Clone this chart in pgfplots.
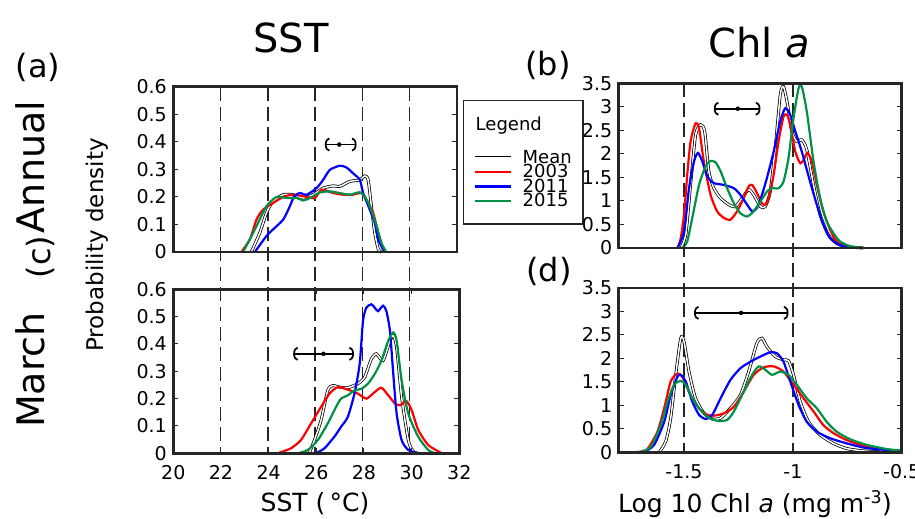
\documentclass[border=0pt]{standalone}
\usepackage{fontspec}
\setmainfont{DejaVu Sans}
\usepackage{pgfplots}
\pgfplotsset{compat=1.18}
\usetikzlibrary{arrows.meta}
\definecolor{axcol}{RGB}{38,38,38}
\definecolor{cred}{RGB}{255,0,0}
\definecolor{cblue}{RGB}{0,0,255}
\definecolor{cgreen}{RGB}{0,145,70}
\newcommand{\fs}[1]{\fontsize{#1}{#1}\selectfont}
\pgfplotsset{
  panel/.style={scale only axis, axis on top, clip=false,
    axis line style={draw=axcol, line width=2.8pt},
    tick style={draw=axcol, line width=1pt},
    tick align=inside, major tick length=5pt,
    /pgf/number format/assume math mode=true,
    ticklabel style={font=\fs{19}},
    yticklabel style={xshift=-3pt},
    xticklabel style={yshift=-9pt},
  },
  sst/.style={panel, xmin=20, xmax=32, ymin=0, ymax=0.6,
    xtick={20,22,24,26,28,30,32},
    ytick={0,0.1,0.2,0.3,0.4,0.5,0.6},
    yticklabels={0,0.1,0.2,0.3,0.4,0.5,0.6}},
  chl/.style={panel, xmin=-1.8, xmax=-0.5, ymin=0, ymax=3.5,
    xtick={-1.5,-1,-0.5},
    ytick={0,0.5,1,1.5,2,2.5,3,3.5},
    yticklabels={0,0.5,1,1.5,2,2.5,3,3.5}},
  meanl/.style={draw=black, line width=0.75pt, double=white, double distance=1.5pt, smooth, tension=0.4},
  s03/.style={cred, line width=2.2pt, smooth, tension=0.4},
  s11/.style={cblue, line width=2.2pt, smooth, tension=0.4},
  s15/.style={cgreen, line width=2.2pt, smooth, tension=0.4},
  dline/.style={draw=axcol, line width=1.5pt, dash pattern=on 14pt off 6pt, forget plot},
  ebar/.style={black, line width=1.7pt, forget plot, arrows={Arc Barb[width=14pt,length=4.5pt]-Arc Barb[width=14pt,length=4.5pt]}},
  edot/.style={black, only marks, mark=*, mark size=2pt, forget plot},
}
\begin{document}
\begin{tikzpicture}[x=1pt,y=1pt]
\path[use as bounding box] (0,0) rectangle (915,519);

% ---------------- (a) SST annual
\begin{axis}[sst, at={(173.3pt,267pt)}, anchor=south west, width=283.7pt, height=165.3pt,
  xticklabels={},
  legend style={at={(1.021,0.92)}, anchor=north west, draw=axcol, line width=1.5pt, fill=white,
    font=\fs{18}, inner xsep=10pt, inner ysep=15pt, row sep=-2.5pt, cells={anchor=west},
    nodes={inner sep=1pt}, /tikz/every odd column/.append style={column sep=9pt}},
  legend image code/.code={\draw[#1] (0pt,0pt) -- (36pt,0pt);},
]
\addplot[dline] coordinates {(22,0.6) (22,-0.7307)};
\addplot[dline] coordinates {(24,0.6) (24,-0.7307)};
\addplot[dline] coordinates {(26,0.6) (26,-0.7307)};
\addplot[dline] coordinates {(28,0.6) (28,-0.7307)};
\addplot[dline] coordinates {(30,0.6) (30,-0.7307)};
\addlegendimage{legend image code/.code={\path[draw=none,fill=none] (0pt,-19pt) rectangle (1pt,0pt);}}
\addlegendentry[text depth=19pt]{\makebox[0pt][l]{\hspace*{-47pt}Legend}}
\addplot[meanl] coordinates {(23.3,0) (23.66,0.07) (23.94,0.142) (24.22,0.184) (24.65,0.208) (25.07,0.208) (25.5,0.196) (25.92,0.208) (26.34,0.232) (26.77,0.24) (27.04,0.238) (27.46,0.256) (27.89,0.262) (28.1,0.276) (28.24,0.262) (28.38,0.166) (28.52,0.07) (28.67,0.01) (28.8,0)};
\addlegendentry{Mean}
\addplot[s03] coordinates {(22.88,0) (23.24,0.046) (23.52,0.118) (23.8,0.154) (24.22,0.178) (24.65,0.2) (25.07,0.208) (25.64,0.2) (25.99,0.196) (26.28,0.226) (26.77,0.214) (27.18,0.208) (27.6,0.208) (27.96,0.214) (28.17,0.19) (28.45,0.142) (28.67,0.07) (28.87,0.01) (29.0,0)};
\addlegendentry{2003}
\addplot[s11] coordinates {(23.45,0) (23.94,0.058) (24.22,0.082) (24.65,0.118) (24.93,0.166) (25.1,0.2) (25.35,0.214) (25.64,0.208) (26.06,0.232) (26.34,0.262) (26.62,0.298) (27.04,0.313) (27.32,0.307) (27.6,0.286) (27.89,0.262) (28.03,0.214) (28.31,0.154) (28.52,0.106) (28.67,0.046) (28.87,0.01) (29.0,0)};
\addlegendentry{2011}
\addplot[s15] coordinates {(22.95,0) (23.31,0.058) (23.52,0.094) (23.94,0.166) (24.37,0.2) (24.79,0.196) (25.21,0.196) (25.5,0.187) (25.78,0.196) (26.2,0.216) (26.62,0.22) (27.04,0.214) (27.46,0.208) (27.89,0.217) (28.1,0.2) (28.31,0.166) (28.6,0.094) (28.8,0.034) (29.0,0)};
\addlegendentry{2015}
\addplot[ebar] coordinates {(26.41,0.39) (27.75,0.39)};
\addplot[edot] coordinates {(27.02,0.39)};
\end{axis}

% ---------------- (c) SST March
\begin{axis}[sst, at={(173.3pt,65.7pt)}, anchor=south west, width=286pt, height=164pt]
\addplot[meanl] coordinates {(25.7,0) (25.92,0.048) (26.2,0.121) (26.48,0.23) (26.69,0.248) (26.97,0.242) (27.32,0.24) (27.75,0.255) (28.03,0.279) (28.31,0.345) (28.52,0.364) (28.8,0.339) (29.09,0.412) (29.23,0.43) (29.37,0.388) (29.58,0.206) (29.86,0.048) (30.07,0.006) (30.28,0)};
\addplot[s03] coordinates {(24.37,0) (24.93,0.018) (25.35,0.048) (25.78,0.109) (26.2,0.17) (26.55,0.218) (26.9,0.242) (27.32,0.233) (27.75,0.218) (28.1,0.2) (28.45,0.224) (28.73,0.24) (29.02,0.212) (29.3,0.182) (29.51,0.176) (29.79,0.19) (30.0,0.158) (30.28,0.085) (30.7,0.03) (31.27,0)};
\addplot[s11] coordinates {(25.98,0) (26.34,0.018) (26.76,0.061) (27.04,0.097) (27.32,0.133) (27.6,0.218) (27.82,0.327) (27.96,0.485) (28.1,0.533) (28.31,0.545) (28.45,0.533) (28.59,0.52) (28.8,0.54) (28.94,0.52) (29.09,0.448) (29.23,0.29) (29.37,0.145) (29.58,0.048) (29.86,0.012) (30.28,0)};
\addplot[s15] coordinates {(25.21,0) (25.64,0.012) (26.06,0.048) (26.48,0.109) (26.83,0.17) (27.04,0.2) (27.32,0.212) (27.6,0.23) (27.89,0.236) (28.17,0.255) (28.45,0.29) (28.73,0.339) (29.02,0.412) (29.23,0.442) (29.37,0.412) (29.58,0.267) (29.86,0.145) (30.28,0.06) (30.7,0.012) (30.99,0)};
\addplot[ebar] coordinates {(25.03,0.364) (27.58,0.364)};
\addplot[edot] coordinates {(26.3,0.364)};
\end{axis}

% ---------------- (b) Chl annual
\begin{axis}[chl, at={(618.7pt,271pt)}, anchor=south west, width=283pt, height=164.7pt,
  xticklabels={}]
\addplot[dline] coordinates {(-1.5,3.5) (-1.5,-4.341)};
\addplot[dline] coordinates {(-1,3.5) (-1,-4.341)};
\addplot[meanl] coordinates {(-1.515,0) (-1.492,0.28) (-1.47,1.34) (-1.447,2.4) (-1.424,2.62) (-1.405,2.48) (-1.386,1.63) (-1.363,1.27) (-1.332,1.06) (-1.294,0.92) (-1.264,0.88) (-1.233,1.06) (-1.203,1.24) (-1.18,1.13) (-1.149,0.88) (-1.127,0.88) (-1.104,1.2) (-1.081,2.12) (-1.058,3.25) (-1.043,3.43) (-1.024,3.04) (-1.005,2.48) (-0.982,2.26) (-0.959,2.3) (-0.936,2.09) (-0.905,1.34) (-0.875,0.71) (-0.837,0.28) (-0.799,0.1) (-0.753,0.03) (-0.677,0)};
\addplot[s03] coordinates {(-1.53,0) (-1.515,0.21) (-1.5,0.71) (-1.485,1.56) (-1.47,2.26) (-1.447,2.65) (-1.431,2.55) (-1.409,1.84) (-1.378,1.13) (-1.348,0.78) (-1.317,0.64) (-1.287,0.6) (-1.256,0.78) (-1.226,1.06) (-1.203,1.31) (-1.187,1.34) (-1.165,1.17) (-1.142,0.95) (-1.127,0.92) (-1.111,1.06) (-1.088,1.56) (-1.066,2.26) (-1.043,2.79) (-1.027,2.83) (-1.012,2.62) (-0.989,2.05) (-0.966,1.8) (-0.951,1.87) (-0.933,2.02) (-0.913,1.84) (-0.89,1.34) (-0.86,0.78) (-0.829,0.39) (-0.799,0.14) (-0.753,0.03) (-0.677,0)};
\addplot[s11] coordinates {(-1.53,0) (-1.5,0.35) (-1.477,1.27) (-1.454,1.84) (-1.436,2.02) (-1.416,1.84) (-1.393,1.52) (-1.363,1.38) (-1.317,1.34) (-1.271,1.27) (-1.241,1.13) (-1.21,0.92) (-1.187,0.78) (-1.165,0.85) (-1.142,1.13) (-1.119,1.49) (-1.088,2.05) (-1.058,2.69) (-1.035,2.97) (-1.012,2.83) (-0.989,2.48) (-0.959,2.05) (-0.921,1.41) (-0.89,0.92) (-0.86,0.5) (-0.829,0.21) (-0.784,0.06) (-0.723,0)};
\addplot[s15] coordinates {(-1.508,0) (-1.485,0.14) (-1.462,0.64) (-1.431,1.34) (-1.401,1.73) (-1.378,1.85) (-1.355,1.82) (-1.332,1.63) (-1.302,1.27) (-1.271,0.95) (-1.241,0.74) (-1.21,0.67) (-1.18,0.78) (-1.149,0.99) (-1.119,1.2) (-1.096,1.27) (-1.066,1.27) (-1.043,1.41) (-1.02,1.91) (-0.997,2.76) (-0.974,3.39) (-0.959,3.43) (-0.936,2.9) (-0.905,1.84) (-0.875,1.06) (-0.845,0.57) (-0.814,0.32) (-0.784,0.14) (-0.738,0.04) (-0.677,0)};
\addplot[ebar] coordinates {(-1.363,2.96) (-1.149,2.96)};
\addplot[edot] coordinates {(-1.253,2.96)};
\end{axis}

% ---------------- (d) Chl March
\begin{axis}[chl, at={(618.7pt,66.7pt)}, anchor=south west, width=283pt, height=164.3pt,
  xticklabels={-1.5,-1,-0.5}]
\addplot[meanl] coordinates {(-1.614,0) (-1.584,0.23) (-1.561,0.73) (-1.538,1.65) (-1.515,2.43) (-1.5,2.36) (-1.477,1.72) (-1.447,1.15) (-1.408,0.83) (-1.37,0.71) (-1.332,0.73) (-1.287,0.94) (-1.241,1.22) (-1.203,1.72) (-1.165,2.33) (-1.142,2.43) (-1.119,2.25) (-1.081,2.04) (-1.043,1.97) (-1.02,1.95) (-0.997,1.65) (-0.966,1.08) (-0.928,0.65) (-0.875,0.37) (-0.814,0.19) (-0.753,0.08) (-0.677,0.03) (-0.6,0.01)};
\addplot[s03] coordinates {(-1.75,0) (-1.706,0.01) (-1.668,0.07) (-1.622,0.44) (-1.591,0.94) (-1.561,1.51) (-1.53,1.68) (-1.508,1.61) (-1.485,1.37) (-1.454,1.08) (-1.424,0.9) (-1.393,0.8) (-1.363,0.78) (-1.317,0.83) (-1.271,0.97) (-1.226,1.29) (-1.18,1.65) (-1.134,1.81) (-1.088,1.83) (-1.043,1.72) (-0.997,1.44) (-0.951,1.15) (-0.905,0.87) (-0.86,0.58) (-0.814,0.41) (-0.753,0.26) (-0.677,0.14) (-0.601,0.07) (-0.509,0.03)};
\addplot[s11] coordinates {(-1.72,0) (-1.683,0.01) (-1.637,0.16) (-1.591,0.65) (-1.561,1.22) (-1.53,1.61) (-1.515,1.65) (-1.492,1.51) (-1.462,1.08) (-1.431,0.8) (-1.401,0.71) (-1.37,0.8) (-1.332,1.15) (-1.287,1.54) (-1.241,1.79) (-1.195,1.93) (-1.149,2.04) (-1.104,2.13) (-1.073,2.11) (-1.043,1.93) (-1.012,1.51) (-0.974,1.01) (-0.936,0.65) (-0.89,0.44) (-0.829,0.3) (-0.753,0.19) (-0.662,0.09) (-0.54,0.04) (-0.5,0.03)};
\addplot[s15] coordinates {(-1.73,0) (-1.698,0.01) (-1.652,0.12) (-1.607,0.58) (-1.576,1.08) (-1.546,1.44) (-1.515,1.52) (-1.492,1.44) (-1.462,1.15) (-1.431,0.94) (-1.393,0.76) (-1.347,0.67) (-1.302,0.69) (-1.271,0.87) (-1.226,1.29) (-1.187,1.65) (-1.157,1.83) (-1.127,1.76) (-1.096,1.65) (-1.058,1.72) (-1.02,1.65) (-0.982,1.44) (-0.936,1.15) (-0.89,0.94) (-0.845,0.65) (-0.799,0.44) (-0.738,0.28) (-0.662,0.16) (-0.57,0.07) (-0.509,0.04)};
\addplot[ebar] coordinates {(-1.454,2.97) (-1.02,2.97)};
\addplot[edot] coordinates {(-1.238,2.97)};
\end{axis}

% ---------------- texts
\node[font=\fs{40}] at (291,481) {SST};
\node[font=\fs{40}] at (759,476) {Chl \textit{a}};
\node[font=\fs{25}] at (315,15) {SST (\,°C)};
\node[font=\fs{25}] at (755,15) {Log 10 Chl \textit{a} (mg m\textsuperscript{-3})};
\node[font=\fs{32}] at (38,452) {(a)};
\node[font=\fs{32}] at (548,454) {(b)};
\node[font=\fs{32}, rotate=90] at (40,262) {(c)};
\node[font=\fs{32}] at (549,248) {(d)};
\node[font=\fs{38}, rotate=90] at (30,352) {Annual};
\node[font=\fs{38}, rotate=90] at (30,149) {March};
\node[font=\fs{23}, rotate=90] at (97,274) {Probability density};
\end{tikzpicture}
\end{document}
